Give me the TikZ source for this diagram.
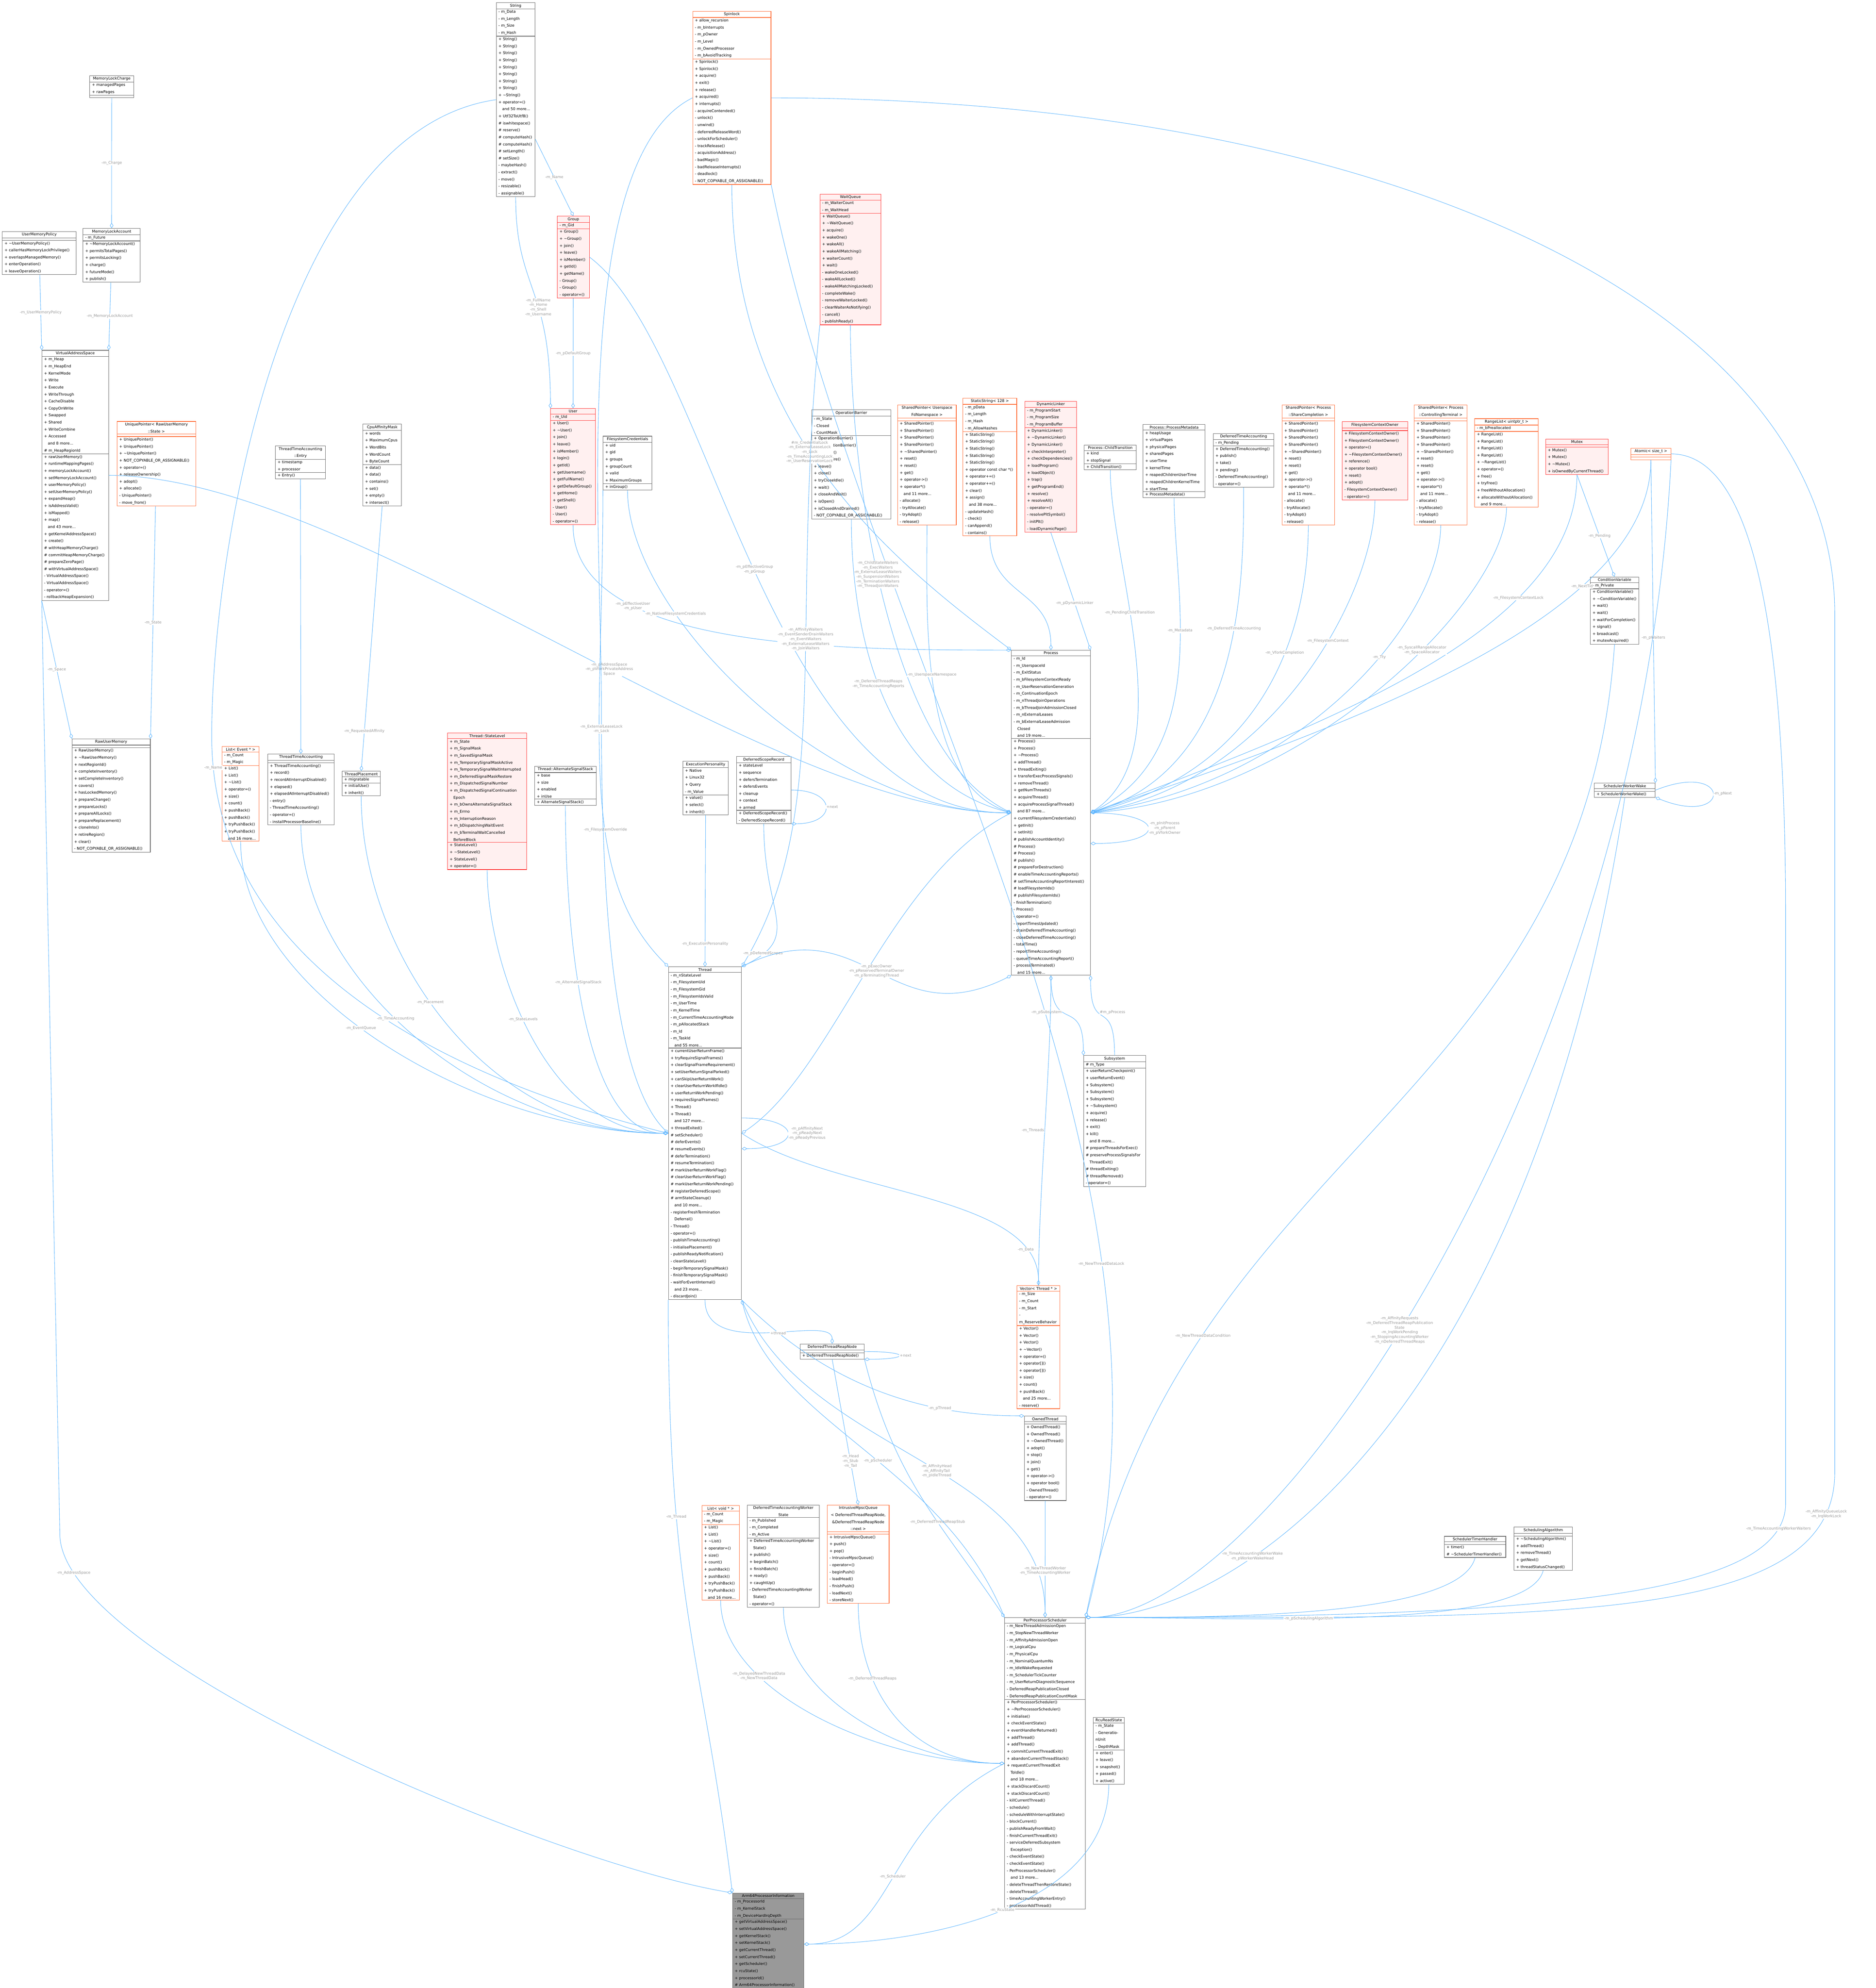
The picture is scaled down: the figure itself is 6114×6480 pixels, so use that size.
\documentclass[tikz,border=0pt]{standalone}
\usepackage{fontspec}
\setmainfont{DejaVu Sans}
\usetikzlibrary{arrows.meta,shapes.multipart}

\definecolor{edgeblue}{HTML}{63B8FF}
\definecolor{labelgray}{HTML}{9A9A9A}
\definecolor{tmplorange}{HTML}{FF6A33}
\definecolor{incred}{HTML}{FF3333}
\definecolor{incfill}{HTML}{FFF0F0}
\definecolor{boxgray}{HTML}{666666}

\newcommand{\ttl}[1]{\makebox[\hsize]{#1}}
\newcommand{\tl}{\textasciitilde}

\begin{document}
\begin{tikzpicture}[
        x=0.01cm, y=-0.01cm,
        cls/.style={draw=boxgray, fill=white, line width=0.4pt, rectangle split, rectangle split parts=3,
            anchor=north west, align=left, inner xsep=2pt, inner ysep=1pt,
            font=\fontsize{3.5}{6.5}\selectfont},
        tmpl/.style={cls, draw=tmplorange},
        inc/.style={cls, draw=incred, fill=incfill},
        cur/.style={cls, fill=black!40},
        agg/.style={draw=edgeblue, line width=0.4pt, -{Diamond[open, length=5pt, width=3.2pt]}},
        lbl/.style={text=labelgray, font=\fontsize{3.5}{4.3}\selectfont, align=center, fill=white, inner sep=0.5pt},
    ]
    \useasboundingbox (0,0) rectangle (6114,6480);

    % top row
    \node[cls, text width=1.29cm] (memorylockcharge) at (292,246) {\ttl{MemoryLockCharge}
        \nodepart{two} + managedPages\\ + rawPages
        \nodepart{three} \mbox{}};
    \node[cls, text width=1.12cm] (string) at (1617,8) {\ttl{String}
        \nodepart{two} - m\_Data\\ - m\_Length\\ - m\_Size\\ - m\_Hash
        \nodepart{three} + String()\\ + String()\\ + String()\\ + String()\\ + String()\\ + String()\\ + String()\\ + String()\\
        + \tl String()\\ + operator=()\\ \quad and 50 more...\\ + Utf32ToUtf8()\\ \# iswhitespace()\\ \# reserve()\\
        \# computeHash()\\ \# computeHash()\\ \# setLength()\\ \# setSize()\\ - maybeHash()\\ - extract()\\ - move()\\ - resizable()\\ - assignable()};
    \node[tmpl, text width=2.41cm] (spinlock) at (2257,36) {\ttl{Spinlock}
        \nodepart{two} + allow\_recursion\\ - m\_bInterrupts\\ - m\_pOwner\\ - m\_Level\\ - m\_OwnedProcessor\\ - m\_bAvoidTracking
        \nodepart{three} + Spinlock()\\ + Spinlock()\\ + acquire()\\ + exit()\\ + release()\\ + acquired()\\ + interrupts()\\
        - acquireContended()\\ - unlock()\\ - unwind()\\ - deferredReleaseWord()\\ - unlockForScheduler()\\ - trackRelease()\\
        - acquisitionAddress()\\ - badMagic()\\ - badReleaseInterrupts()\\ - deadlock()\\ - NOT\_COPYABLE\_OR\_ASSIGNABLE()};
    \node[inc, text width=1.84cm] (waitqueue) at (2672,632) {\ttl{WaitQueue}
        \nodepart{two} - m\_WaiterCount\\ - m\_WaitHead
        \nodepart{three} + WaitQueue()\\ + \tl WaitQueue()\\ + acquire()\\ + wakeOne()\\ + wakeAll()\\ + wakeAllMatching()\\ + waiterCount()\\ + wait()\\
        - wakeOneLocked()\\ - wakeAllLocked()\\ - wakeAllMatchingLocked()\\ - completeWake()\\ - removeWaiterLocked()\\ - clearWaiterAsNotifying()\\ - cancel()\\ - publishReady()};
    \node[cls, text width=2.26cm] (usermemorypolicy) at (7,754) {\ttl{UserMemoryPolicy}
        \nodepart{two} \mbox{}
        \nodepart{three} + \tl UserMemoryPolicy()\\ + callerHasMemoryLockPrivilege()\\ + overlapsManagedMemory()\\ + enterOperation()\\ + leaveOperation()};
    \node[cls, text width=1.72cm] (memorylockaccount) at (270,744) {\ttl{MemoryLockAccount}
        \nodepart{two} - m\_Future
        \nodepart{three} + \tl MemoryLockAccount()\\ + permitsTotalPages()\\ + permitsLocking()\\ + charge()\\ + futureMode()\\ + publish()};
    \node[inc, text width=0.90cm] (group) at (1816,704) {\ttl{Group}
        \nodepart{two} - m\_Gid
        \nodepart{three} + Group()\\ + \tl Group()\\ + join()\\ + leave()\\ + isMember()\\ + getId()\\ + getName()\\ - Group()\\ - Group()\\ - operator=()};
    \node[inc, text width=1.32cm] (user) at (1794,1331) {\ttl{User}
        \nodepart{two} - m\_Uid
        \nodepart{three} + User()\\ + \tl User()\\ + join()\\ + leave()\\ + isMember()\\ + login()\\ + getId()\\ + getUsername()\\ + getFullName()\\
        + getDefaultGroup()\\ + getHome()\\ + getShell()\\ - User()\\ - User()\\ - operator=()};
    \node[cls, text width=2.03cm] (virtualaddressspace) at (136,1141) {\ttl{VirtualAddressSpace}
        \nodepart{two} + m\_Heap\\ + m\_HeapEnd\\ + KernelMode\\ + Write\\ + Execute\\ + WriteThrough\\ + CacheDisable\\ + CopyOnWrite\\ + Swapped\\ + Shared\\ + WriteCombine\\ + Accessed\\ \quad and 8 more...\\ \# m\_HeapRegionId
        \nodepart{three} + rawUserMemory()\\ + runtimeMappingPages()\\ + memoryLockAccount()\\ + setMemoryLockAccount()\\ + userMemoryPolicy()\\ + setUserMemoryPolicy()\\ + expandHeap()\\ + isAddressValid()\\ + isMapped()\\ + map()\\ \quad and 43 more...\\ + getKernelAddressSpace()\\ + create()\\
        \# withHeapMemoryCharge()\\ \# commitHeapMemoryCharge()\\ \# prepareZeroPage()\\ \# withVirtualAddressSpace()\\ - VirtualAddressSpace()\\ - VirtualAddressSpace()\\ - operator=()\\ - rollbackHeapExpansion()};
    \node[tmpl, text width=2.42cm] (uniquepointer) at (381,1373) {\ttl{UniquePointer< RawUserMemory}\\ \ttl{::State >}
        \nodepart{two} \mbox{}
        \nodepart{three} + UniquePointer()\\ + UniquePointer()\\ + \tl UniquePointer()\\ + NOT\_COPYABLE\_OR\_ASSIGNABLE()\\ + operator=()\\ + releaseOwnership()\\ + adopt()\\ + allocate()\\ - UniquePointer()\\ - move\_from()};
    \node[cls, text width=1.49cm] (ttaentry) at (897,1453) {\ttl{ThreadTimeAccounting}\\ \ttl{::Entry}
        \nodepart{two} + timestamp\\ + processor
        \nodepart{three} + Entry()};
    \node[cls, text width=1.12cm] (cpuaffinitymask) at (1182,1382) {\ttl{CpuAffinityMask}
        \nodepart{two} + words\\ + MaximumCpus\\ + WordBits\\ + WordCount\\ + ByteCount
        \nodepart{three} + data()\\ + data()\\ + contains()\\ + set()\\ + empty()\\ + intersect()};
    \node[cls, text width=1.45cm] (fscredentials) at (1965,1421) {\ttl{FilesystemCredentials}
        \nodepart{two} + uid\\ + gid\\ + groups\\ + groupCount\\ + valid\\ + MaximumGroups
        \nodepart{three} + inGroup()};
    \node[cls, text width=2.44cm] (operationbarrier) at (2645,1335) {\ttl{OperationBarrier}
        \nodepart{two} - m\_State\\ - Closed\\ - CountMask
        \nodepart{three} + OperationBarrier()\\ + \tl OperationBarrier()\\ + tryEnter()\\ + tryAcquire()\\ + leave()\\ + close()\\ + tryCloseIdle()\\ + wait()\\ + closeAndWait()\\ + isOpen()\\ + isClosedAndDrained()\\ - NOT\_COPYABLE\_OR\_ASSIGNABLE()};
    \node[tmpl, text width=1.77cm] (spnamespace) at (2925,1319) {\ttl{SharedPointer< Userspace}\\ \ttl{FdNamespace >}
        \nodepart{two} \mbox{}
        \nodepart{three} + SharedPointer()\\ + SharedPointer()\\ + SharedPointer()\\ + SharedPointer()\\ + \tl SharedPointer()\\ + reset()\\ + reset()\\ + get()\\ + operator->()\\ + operator*()\\ \quad and 11 more...\\ - allocate()\\ - tryAllocate()\\ - tryAdopt()\\ - release()};
    \node[tmpl, text width=1.61cm] (staticstring) at (3138,1297) {\ttl{StaticString< 128 >}
        \nodepart{two} - m\_pData\\ - m\_Length\\ - m\_Hash\\ - m\_AllowHashes
        \nodepart{three} + StaticString()\\ + StaticString()\\ + StaticString()\\ + StaticString()\\ + StaticString()\\ + operator const char *()\\ + operator+=()\\ + operator+=()\\ + clear()\\ + assign()\\ \quad and 38 more...\\ - updateHash()\\ - check()\\ - canAppend()\\ - contains()};
    \node[inc, text width=1.54cm] (dynamiclinker) at (3340,1307) {\ttl{DynamicLinker}
        \nodepart{two} - m\_ProgramStart\\ - m\_ProgramSize\\ - m\_ProgramBuffer
        \nodepart{three} + DynamicLinker()\\ + \tl DynamicLinker()\\ + DynamicLinker()\\ + checkInterpreter()\\ + checkDependencies()\\ + loadProgram()\\ + loadObject()\\ + trap()\\ + getProgramEnd()\\ + resolve()\\ + resolveAll()\\ - operator=()\\ - resolvePltSymbol()\\ - initPlt()\\ - loadDynamicPage()};
    \node[cls, text width=1.56cm] (childtransition) at (3533,1450) {\ttl{Process::ChildTransition}
        \nodepart{two} + kind\\ + stopSignal
        \nodepart{three} + ChildTransition()};
    \node[cls, text width=1.88cm] (processmetadata) at (3725,1383) {\ttl{Process::ProcessMetadata}
        \nodepart{two} + heapUsage\\ + virtualPages\\ + physicalPages\\ + sharedPages\\ + userTime\\ + kernelTime\\ + reapedChildrenUserTime\\ + reapedChildrenKernelTime\\ + startTime
        \nodepart{three} + ProcessMetadata()};
    \node[cls, text width=1.83cm] (deferredtimeaccounting) at (3954,1412) {\ttl{DeferredTimeAccounting}
        \nodepart{two} - m\_Pending
        \nodepart{three} + DeferredTimeAccounting()\\ + publish()\\ + take()\\ + pending()\\ - DeferredTimeAccounting()\\ - operator=()};
    \node[tmpl, text width=1.57cm] (spcompletion) at (4178,1319) {\ttl{SharedPointer< Process}\\ \ttl{::ShareCompletion >}
        \nodepart{two} \mbox{}
        \nodepart{three} + SharedPointer()\\ + SharedPointer()\\ + SharedPointer()\\ + SharedPointer()\\ + \tl SharedPointer()\\ + reset()\\ + reset()\\ + get()\\ + operator->()\\ + operator*()\\ \quad and 11 more...\\ - allocate()\\ - tryAllocate()\\ - tryAdopt()\\ - release()};
    \node[inc, text width=1.99cm] (fscontextowner) at (4374,1374) {\ttl{FilesystemContextOwner}
        \nodepart{two} \mbox{}
        \nodepart{three} + FilesystemContextOwner()\\ + FilesystemContextOwner()\\ + operator=()\\ + \tl FilesystemContextOwner()\\ + reference()\\ + operator bool()\\ + reset()\\ + adopt()\\ - FilesystemContextOwner()\\ - operator=()};
    \node[tmpl, text width=1.58cm] (spterminal) at (4609,1319) {\ttl{SharedPointer< Process}\\ \ttl{::ControllingTerminal >}
        \nodepart{two} \mbox{}
        \nodepart{three} + SharedPointer()\\ + SharedPointer()\\ + SharedPointer()\\ + SharedPointer()\\ + \tl SharedPointer()\\ + reset()\\ + reset()\\ + get()\\ + operator->()\\ + operator*()\\ \quad and 11 more...\\ - allocate()\\ - tryAllocate()\\ - tryAdopt()\\ - release()};
    \node[tmpl, text width=1.93cm] (rangelist) at (4806,1364) {\ttl{RangeList< uintptr\_t >}
        \nodepart{two} - m\_bPreallocated
        \nodepart{three} + RangeList()\\ + RangeList()\\ + RangeList()\\ + RangeList()\\ + \tl RangeList()\\ + operator=()\\ + free()\\ + tryFree()\\ + freeWithoutAllocation()\\ + allocateWithoutAllocation()\\ \quad and 9 more...};
    \node[inc, text width=1.90cm] (mutex) at (5037,1431) {\ttl{Mutex}
        \nodepart{two} \mbox{}
        \nodepart{three} + Mutex()\\ + Mutex()\\ + \tl Mutex()\\ + isOwnedByCurrentThread()};
    \node[tmpl, text width=1.16cm] (atomicsize) at (5315,1460) {\ttl{Atomic< size\_t >}
        \nodepart{two} \mbox{}
        \nodepart{three} \mbox{}};
    \node[cls, text width=1.43cm] (conditionvariable) at (5183,1880) {\ttl{ConditionVariable}
        \nodepart{two} - m\_Private
        \nodepart{three} + ConditionVariable()\\ + \tl ConditionVariable()\\ + wait()\\ + wait()\\ + waitForCompletion()\\ + signal()\\ + broadcast()\\ + mutexAcquired()};
    \node[cls, text width=1.84cm] (workerwake) at (5196,2552) {\ttl{SchedulerWorkerWake}
        \nodepart{two} \mbox{}
        \nodepart{three} + SchedulerWorkerWake()};

    % middle row
    \node[cls, text width=2.41cm] (rawusermemory) at (234,2408) {\ttl{RawUserMemory}
        \nodepart{two} \mbox{}
        \nodepart{three} + RawUserMemory()\\ + \tl RawUserMemory()\\ + nextRegionId()\\ + completeInventory()\\ + setCompleteInventory()\\ + covers()\\ + hasLockedMemory()\\ + prepareChange()\\ + prepareLocks()\\ + prepareAllLocks()\\ + prepareReplacement()\\ + cloneInto()\\ + retireRegion()\\ + clear()\\ - NOT\_COPYABLE\_OR\_ASSIGNABLE()};
    \node[tmpl, text width=1.07cm] (eventlist) at (723,2433) {\ttl{List< Event * >}
        \nodepart{two} - m\_Count\\ - m\_Magic
        \nodepart{three} + List()\\ + List()\\ + \tl List()\\ + operator=()\\ + size()\\ + count()\\ + pushBack()\\ + pushBack()\\ + tryPushBack()\\ + tryPushBack()\\ \quad and 16 more...};
    \node[cls, text width=2.02cm] (timeaccounting) at (872,2457) {\ttl{ThreadTimeAccounting}
        \nodepart{two} \mbox{}
        \nodepart{three} + ThreadTimeAccounting()\\ + record()\\ + recordAtInterruptDisabled()\\ + elapsed()\\ + elapsedAtInterruptDisabled()\\ - entry()\\ - ThreadTimeAccounting()\\ - operator=()\\ - installProcessorBaseline()};
    \node[cls, text width=1.11cm] (placement) at (1114,2513) {\ttl{ThreadPlacement}
        \nodepart{two} + migratable
        \nodepart{three} + initialUse()\\ + inherit()};
    \node[inc, text width=2.44cm] (statelevel) at (1458,2389) {\ttl{Thread::StateLevel}
        \nodepart{two} + m\_State\\ + m\_SignalMask\\ + m\_SavedSignalMask\\ + m\_TemporarySignalMaskActive\\ + m\_TemporarySignalWaitInterrupted\\ + m\_DeferredSignalMaskRestore\\ + m\_DispatchedSignalNumber\\ + m\_DispatchedSignalContinuation\\ \quad Epoch\\ + m\_bOwnsAlternateSignalStack\\ + m\_Errno\\ + m\_InterruptionReason\\ + m\_bDispatchingWaitEvent\\ + m\_bTerminalWaitCancelled\\ \quad BeforeBlock
        \nodepart{three} + StateLevel()\\ + \tl StateLevel()\\ + StateLevel()\\ + operator=()};
    \node[cls, text width=1.86cm] (altstack) at (1742,2497) {\ttl{Thread::AlternateSignalStack}
        \nodepart{two} + base\\ + size\\ + enabled\\ + inUse
        \nodepart{three} + AlternateSignalStack()};
    \node[cls, text width=1.34cm] (personality) at (2225,2481) {\ttl{ExecutionPersonality}
        \nodepart{two} + Native\\ + Linux32\\ + Query\\ - m\_Value
        \nodepart{three} + value()\\ + select()\\ + inherit()};
    \node[cls, text width=1.63cm] (scoperecord) at (2400,2465) {\ttl{DeferredScopeRecord}
        \nodepart{two} + stateLevel\\ + sequence\\ + defersTermination\\ + defersEvents\\ + cleanup\\ + context\\ + armed
        \nodepart{three} + DeferredScopeRecord()\\ - DeferredScopeRecord()};

    \node[cls, text width=2.43cm] (process) at (3296,2119) {\ttl{Process}
        \nodepart{two} - m\_Id\\ - m\_UserspaceId\\ - m\_ExitStatus\\ - m\_bFilesystemContextReady\\ - m\_UserReservationGeneration\\ - m\_ContinuationEpoch\\ - m\_nThreadJoinOperations\\ - m\_bThreadJoinAdmissionClosed\\ - m\_nExternalLeases\\ - m\_bExternalLeaseAdmission\\ \quad Closed\\ \quad and 19 more...
        \nodepart{three} + Process()\\ + Process()\\ + \tl Process()\\ + addThread()\\ + threadExiting()\\ + transferExecProcessSignals()\\ + removeThread()\\ + getNumThreads()\\ + acquireThread()\\ + acquireProcessSignalThread()\\ \quad and 87 more...\\ + currentFilesystemCredentials()\\ + getInit()\\ + setInit()\\
        \# publishAccountIdentity()\\ \# Process()\\ \# Process()\\ \# publish()\\ \# prepareForDestruction()\\ \# enableTimeAccountingReports()\\ \# setTimeAccountingReportInterest()\\ \# loadFilesystemIds()\\ \# publishFilesystemIds()\\
        - finishTermination()\\ - Process()\\ - operator=()\\ - reportTimesUpdated()\\ - drainDeferredTimeAccounting()\\ - closeDeferredTimeAccounting()\\ - totalTime()\\ - reportTimeAccounting()\\ - queueTimeAccountingReport()\\ - processTerminated()\\ \quad and 15 more...};
    \node[cls, text width=2.24cm] (thread) at (2178,3151) {\ttl{Thread}
        \nodepart{two} - m\_nStateLevel\\ - m\_FilesystemUid\\ - m\_FilesystemGid\\ - m\_FilesystemIdsValid\\ - m\_UserTime\\ - m\_KernelTime\\ - m\_CurrentTimeAccountingMode\\ - m\_pAllocatedStack\\ - m\_Id\\ - m\_TaskId\\ \quad and 55 more...
        \nodepart{three} + currentUserReturnFrame()\\ + tryRequireSignalFrames()\\ + clearSignalFrameRequirement()\\ + setUserReturnSignalParked()\\ + canSkipUserReturnWork()\\ + clearUserReturnWorkIfIdle()\\ + userReturnWorkPending()\\ + requiresSignalFrames()\\ + Thread()\\ + Thread()\\ \quad and 127 more...\\ + threadExited()\\
        \# setScheduler()\\ \# deferEvents()\\ \# resumeEvents()\\ \# deferTermination()\\ \# resumeTermination()\\ \# markUserReturnWorkFlag()\\ \# clearUserReturnWorkFlag()\\ \# markUserReturnWorkPending()\\ \# registerDeferredScope()\\ \# armStateCleanup()\\ \quad and 10 more...\\
        - registerFreshTermination\\ \quad Deferral()\\ - Thread()\\ - operator=()\\ - publishTimeAccounting()\\ - initialisePlacement()\\ - publishReadyNotification()\\ - cleanStateLevel()\\ - beginTemporarySignalMask()\\ - finishTemporarySignalMask()\\ - waitForEventInternal()\\ \quad and 23 more...\\ - discardJoin()};
    \node[cls, text width=1.88cm] (subsystem) at (3531,3440) {\ttl{Subsystem}
        \nodepart{two} \# m\_Type
        \nodepart{three} + userReturnCheckpoint()\\ + userReturnEvent()\\ + Subsystem()\\ + Subsystem()\\ + Subsystem()\\ + \tl Subsystem()\\ + acquire()\\ + release()\\ + exit()\\ + kill()\\ \quad and 8 more...\\ \# prepareThreadsForExec()\\ \# preserveProcessSignalsFor\\ \quad ThreadExit()\\ \# threadExiting()\\ \# threadRemoved()\\ - operator=()};

    % lower row
    \node[tmpl, text width=1.26cm] (threadvector) at (3314,4190) {\ttl{Vector< Thread * >}
        \nodepart{two} - m\_Size\\ - m\_Count\\ - m\_Start\\ - m\_ReserveBehavior
        \nodepart{three} + Vector()\\ + Vector()\\ + Vector()\\ + \tl Vector()\\ + operator=()\\ + operator[]()\\ + operator[]()\\ + size()\\ + count()\\ + pushBack()\\ \quad and 25 more...\\ - reserve()};
    \node[cls, text width=1.22cm] (ownedthread) at (3338,4615) {\ttl{OwnedThread}
        \nodepart{two} \mbox{}
        \nodepart{three} + OwnedThread()\\ + OwnedThread()\\ + \tl OwnedThread()\\ + adopt()\\ + stop()\\ + join()\\ + get()\\ + operator->()\\ + operator bool()\\ - OwnedThread()\\ - operator=()};
    \node[cls, text width=1.95cm] (reapnode) at (2607,4380) {\ttl{DeferredThreadReapNode}
        \nodepart{two} \mbox{}
        \nodepart{three} + DeferredThreadReapNode()};
    \node[tmpl, text width=1.08cm] (voidlist) at (2287,4907) {\ttl{List< void * >}
        \nodepart{two} - m\_Count\\ - m\_Magic
        \nodepart{three} + List()\\ + List()\\ + \tl List()\\ + operator=()\\ + size()\\ + count()\\ + pushBack()\\ + pushBack()\\ + tryPushBack()\\ + tryPushBack()\\ \quad and 16 more...};
    \node[cls, text width=2.21cm] (workerstate) at (2435,4905) {\ttl{DeferredTimeAccountingWorker}\\ \ttl{State}
        \nodepart{two} - m\_Published\\ - m\_Completed\\ - m\_Active
        \nodepart{three} + DeferredTimeAccountingWorker\\ \quad State()\\ + publish()\\ + beginBatch()\\ + finishBatch()\\ + ready()\\ + caughtUp()\\ - DeferredTimeAccountingWorker\\ \quad State()\\ - operator=()};
    \node[tmpl, text width=1.87cm] (mpscqueue) at (2696,4905) {\ttl{IntrusiveMpscQueue}\\ \ttl{< DeferredThreadReapNode,}\\ \ttl{\&DeferredThreadReapNode}\\ \ttl{::next >}
        \nodepart{two} \mbox{}
        \nodepart{three} + IntrusiveMpscQueue()\\ + push()\\ + pop()\\ - IntrusiveMpscQueue()\\ - operator=()\\ - beginPush()\\ - loadHead()\\ - finishPush()\\ - loadNext()\\ - storeNext()};
    \node[cls, text width=1.86cm] (timerhandler) at (4707,5007) {\ttl{SchedulerTimerHandler}
        \nodepart{two} \mbox{}
        \nodepart{three} + timer()\\ \# \tl SchedulerTimerHandler()};
    \node[cls, text width=1.76cm] (algorithm) at (4934,4977) {\ttl{SchedulingAlgorithm}
        \nodepart{two} \mbox{}
        \nodepart{three} + \tl SchedulingAlgorithm()\\ + addThread()\\ + removeThread()\\ + getNext()\\ + threadStatusChanged()};
    \node[cls, text width=2.49cm] (scheduler) at (3274,5272) {\ttl{PerProcessorScheduler}
        \nodepart{two} - m\_NewThreadAdmissionOpen\\ - m\_StopNewThreadWorker\\ - m\_AffinityAdmissionOpen\\ - m\_LogicalCpu\\ - m\_PhysicalCpu\\ - m\_NominalQuantumNs\\ - m\_IdleWakeRequested\\ - m\_SchedulerTickCounter\\ - m\_UserReturnDiagnosticSequence\\ - DeferredReapPublicationClosed\\ - DeferredReapPublicationCountMask
        \nodepart{three} + PerProcessorScheduler()\\ + \tl PerProcessorScheduler()\\ + initialise()\\ + checkEventState()\\ + eventHandlerReturned()\\ + addThread()\\ + addThread()\\ + commitCurrentThreadExit()\\ + abandonCurrentThreadStack()\\ + requestCurrentThreadExit\\ \quad ToIdle()\\ \quad and 18 more...\\ + stackDiscardCount()\\ + stackDiscardCount()\\
        - killCurrentThread()\\ - schedule()\\ - scheduleWithInterruptState()\\ - blockCurrent()\\ - publishReadyFromWait()\\ - finishCurrentThreadExit()\\ - serviceDeferredSubsystem\\ \quad Exception()\\ - checkEventState()\\ - checkEventState()\\ - PerProcessorScheduler()\\ \quad and 13 more...\\ - deleteThreadThenRestoreState()\\ - deleteThread()\\ - timeAccountingWorkerEntry()\\ - processorAddThread()};
    \node[cls, text width=0.86cm] (rcustate) at (3563,5597) {\ttl{RcuReadState}
        \nodepart{two} - m\_State\\ - GenerationUnit\\ - DepthMask
        \nodepart{three} + enter()\\ + leave()\\ + snapshot()\\ + passed()\\ + active()};
    \node[cur, text width=2.18cm] (arm64info) at (2387,6170) {\ttl{Arm64ProcessorInformation}
        \nodepart{two} - m\_ProcessorId\\ - m\_KernelStack\\ - m\_DeviceHardIrqDepth
        \nodepart{three} + getVirtualAddressSpace()\\ + setVirtualAddressSpace()\\ + getKernelStack()\\ + setKernelStack()\\ + getCurrentThread()\\ + setCurrentThread()\\ + getScheduler()\\ + rcuState()\\ + processorId()\\ \# Arm64ProcessorInformation()\\ \# \tl Arm64ProcessorInformation()};

    % memory and accounts
    \draw[agg] (memorylockcharge) -- node[lbl] {-m\_Charge} (memorylockaccount);
    \draw[agg] (usermemorypolicy) -- node[lbl] {-m\_UserMemoryPolicy} (virtualaddressspace.north west);
    \draw[agg] (memorylockaccount) -- node[lbl] {-m\_MemoryLockAccount} (virtualaddressspace.north east);
    \draw[agg] (virtualaddressspace.south west) -- node[lbl] {-m\_Space} (rawusermemory.north west);
    \draw[agg] (uniquepointer) -- node[lbl] {-m\_State} (rawusermemory.north east);
    \draw[agg] (virtualaddressspace.south west) -- (195,5000) .. controls +(0,400) and +(-600,-100) .. node[lbl, pos=0.1] {-m\_AddressSpace} (arm64info.north west);
    \draw[agg] (virtualaddressspace.east) .. controls +(800,0) and +(-800,0) .. node[lbl, pos=0.55] {-m\_pAddressSpace\\-m\_pVforkPrivateAddress\\Space} (process.west);

    % users and strings
    \draw[agg] (string) -- node[lbl] {-m\_Name} (group.north);
    \draw[agg] (string.south) .. controls +(0,300) and +(0,-400) .. node[lbl, pos=0.6] {-m\_FullName\\-m\_Home\\-m\_Shell\\-m\_Username} (user.north west);
    \draw[agg] (group) -- node[lbl] {-m\_pDefaultGroup} (user.north);
    \draw[agg] (string.west) .. controls +(-700,100) and +(0,-600) .. (690,2400) .. controls +(0,700) and +(-800,-200) .. node[lbl, pos=0.05] {-m\_Name} (thread.west);
    \draw[agg] (user.south) .. controls +(0,400) and +(-600,0) .. node[lbl, pos=0.3] {-m\_pEffectiveUser\\-m\_pUser} (process.north west);
    \draw[agg] (group.east) .. controls +(400,300) and +(-800,0) .. node[lbl, pos=0.5] {-m\_pEffectiveGroup\\-m\_pGroup} (process.west);
    \draw[agg] (fscredentials.south) .. controls +(0,400) and +(-600,0) .. node[lbl, pos=0.3] {-m\_NativeFilesystemCredentials} (process.west);
    \draw[agg] (fscredentials.south west) .. controls +(0,800) and +(-300,-300) .. node[lbl, pos=0.6] {-m\_FilesystemOverride} (thread.north west);

    % locks and waiting
    \draw[agg] (spinlock.west) .. controls +(-400,200) and +(0,-600) .. (1960,2300) .. controls +(0,500) and +(-200,-200) .. node[lbl, pos=0.05] {-m\_ExternalLeaseLock\\-m\_Lock} (thread.west);
    \draw[agg] (spinlock.south) .. controls +(0,800) and +(-400,-300) .. node[lbl, pos=0.45] {\#m\_CredentialLock\\-m\_ExternalLeaseLock\\-m\_Lock\\-m\_TimeAccountingLock\\-m\_UserReservationLock} (process.north west);
    \draw[agg] (spinlock.east) .. controls +(2000,0) and +(0,-1000) .. (5980,2000) -- (5980,4800) .. controls +(0,500) and +(1500,0) .. node[lbl, pos=0.1] {-m\_AffinityQueueLock\\-m\_IrqWorkLock} (scheduler.north east);
    \draw[agg] (spinlock.south east) .. controls +(300,1500) and +(400,-1500) .. node[lbl, pos=0.75] {-m\_NewThreadDataLock} (scheduler.north east);
    \draw[agg] (waitqueue.south) .. controls +(0,500) and +(-400,-200) .. node[lbl, pos=0.45] {-m\_ChildStateWaiters\\-m\_ExecWaiters\\-m\_ExternalLeaseWaiters\\-m\_SuspensionWaiters\\-m\_TerminationWaiters\\-m\_ThreadJoinWaiters} (process.west);
    \draw[agg] (waitqueue.south west) .. controls +(-100,1000) and +(300,-500) .. node[lbl, pos=0.4] {-m\_AffinityWaiters\\-m\_EventSenderDrainWaiters\\-m\_EventWaiters\\-m\_ExternalLeaseWaiters\\-m\_JoinWaiters} (thread.north east);
    \draw[agg] (mutex.south) .. controls +(0,500) and +(800,-300) .. node[lbl, pos=0.3] {-m\_FilesystemContextLock} (process.east);
    \draw[agg] (atomicsize.south) .. controls +(0,500) and +(900,-300) .. node[lbl, pos=0.3] {-m\_NextTid} (process.east);
    \draw[agg] (conditionvariable.south) .. controls +(-100,1500) and +(300,-1500) .. node[lbl, pos=0.75] {-m\_NewThreadDataCondition} (scheduler.north east);

    % process members
    \draw[agg] (operationbarrier.south) .. controls +(0,400) and +(-400,-100) .. node[lbl, pos=0.45] {-m\_DeferredThreadReaps\\-m\_TimeAccountingReports} (process.west);
    \draw[agg] (spnamespace.south) .. controls +(0,300) and +(-300,-100) .. node[lbl, pos=0.45] {-m\_UserspaceNamespace} (process.west);
    \draw[agg] (staticstring.south) .. controls +(0,200) and +(0,-200) .. (process.north);
    \draw[agg] (dynamiclinker.south) -- node[lbl, pos=0.6] {-m\_pDynamicLinker} (process.north east);
    \draw[agg] (childtransition.south) .. controls +(0,300) and +(300,-200) .. node[lbl, pos=0.4] {-m\_PendingChildTransition} (process.east);
    \draw[agg] (processmetadata.south) .. controls +(0,300) and +(400,-200) .. node[lbl, pos=0.4] {-m\_Metadata} (process.east);
    \draw[agg] (deferredtimeaccounting.south) .. controls +(0,300) and +(500,-150) .. node[lbl, pos=0.4] {-m\_DeferredTimeAccounting} (process.east);
    \draw[agg] (spcompletion.south) .. controls +(0,300) and +(600,-150) .. node[lbl, pos=0.4] {-m\_VforkCompletion} (process.east);
    \draw[agg] (fscontextowner.south) .. controls +(0,300) and +(600,-100) .. node[lbl, pos=0.4] {-m\_FilesystemContext} (process.east);
    \draw[agg] (spterminal.south) .. controls +(0,300) and +(700,-100) .. node[lbl, pos=0.4] {-m\_Tty} (process.east);
    \draw[agg] (rangelist.south) .. controls +(0,300) and +(700,-50) .. node[lbl, pos=0.4] {-m\_SyscallRangeAllocator\\-m\_SpaceAllocator} (process.east);
    \draw[agg] (process.east) .. controls +(250,0) and +(250,0) .. node[lbl, right] {-m\_pInitProcess\\-m\_pParent\\-m\_pVforkOwner} ([yshift=-1cm]process.east);
    \draw[agg] (process.south) .. controls +(0,200) and +(0,-200) .. node[lbl, pos=0.4, left] {-m\_pSubsystem} (subsystem.north west);
    \draw[agg] (subsystem.north) .. controls +(0,-200) and +(0,200) .. node[lbl, pos=0.6, right] {\#m\_pProcess} (process.south east);

    % thread members
    \draw[agg] (eventlist.south) .. controls +(0,500) and +(-600,0) .. node[lbl, pos=0.45] {-m\_EventQueue} (thread.west);
    \draw[agg] (ttaentry) -- (timeaccounting);
    \draw[agg] (timeaccounting.south) .. controls +(0,500) and +(-600,0) .. node[lbl, pos=0.45] {-m\_TimeAccounting} (thread.west);
    \draw[agg] (cpuaffinitymask.south) -- node[lbl, pos=0.85] {-m\_RequestedAffinity} (placement.north);
    \draw[agg] (placement.south) .. controls +(0,500) and +(-600,0) .. node[lbl, pos=0.45] {-m\_Placement} (thread.west);
    \draw[agg] (statelevel.south) .. controls +(0,300) and +(-400,0) .. node[lbl, pos=0.45] {-m\_StateLevels} (thread.west);
    \draw[agg] (altstack.south) .. controls +(0,300) and +(-300,0) .. node[lbl, pos=0.45] {-m\_AlternateSignalStack} (thread.west);
    \draw[agg] (personality.south) -- node[lbl, pos=0.85] {-m\_ExecutionPersonality} (thread.north);
    \draw[agg] (scoperecord.south) .. controls +(0,300) and +(200,-100) .. node[lbl, pos=0.85] {-m\_pDeferredScopes} (thread.north east);
    \draw[agg] (scoperecord.east) .. controls +(150,0) and +(150,0) .. node[lbl, right] {+next} (scoperecord.south east);
    \draw[agg] (process.west) .. controls +(-400,200) and +(300,-200) .. node[lbl, pos=0.5] {-m\_pParent} (thread.east);
    \draw[agg] (thread.north east) .. controls +(400,-200) and +(-400,200) .. node[lbl, pos=0.5] {-m\_pExecOwner\\-m\_pReservedTerminalOwner\\-m\_pTerminatingThread} (process.south west);
    \draw[agg] ([yshift=0.5cm]thread.east) .. controls +(200,0) and +(200,0) .. node[lbl, right] {-m\_pAffinityNext\\-m\_pReadyNext\\-m\_pReadyPrevious} ([yshift=-0.5cm]thread.east);
    \draw[agg] (threadvector.north) .. controls +(0,-300) and +(0,300) .. node[lbl, pos=0.5, left] {-m\_Threads} (process.south);
    \draw[agg] (thread.east) .. controls +(300,200) and +(0,-300) .. node[lbl, pos=0.85] {-m\_Data} (threadvector.north);
    \draw[agg] (thread.south east) .. controls +(300,300) and +(-300,0) .. node[lbl, pos=0.7] {-m\_pThread} (ownedthread.north west);
    \draw[agg] (thread.south) .. controls +(0,200) and +(0,-100) .. node[lbl, pos=0.55] {+thread} (reapnode.north);

    % scheduler members
    \draw[agg] (reapnode.east) .. controls +(150,0) and +(150,0) .. node[lbl, right] {+next} (reapnode.south east);
    \draw[agg] (reapnode.south) -- node[lbl, pos=0.7] {-m\_Head\\-m\_Stub\\-m\_Tail} (mpscqueue.north);
    \draw[agg] (reapnode.south east) .. controls +(100,400) and +(-200,-300) .. node[lbl, pos=0.6] {-m\_DeferredThreadReapStub} (scheduler.north west);
    \draw[agg] (thread.south east) .. controls +(200,500) and +(0,-500) .. node[lbl, pos=0.55] {-m\_AffinityHead\\-m\_AffinityTail\\-m\_pIdleThread} (scheduler.north);
    \draw[agg] (scheduler.north west) .. controls +(-200,-500) and +(100,400) .. node[lbl, pos=0.45] {-m\_pScheduler} (thread.south east);
    \draw[agg] (ownedthread.south) -- node[lbl, pos=0.6] {-m\_NewThreadWorker\\-m\_TimeAccountingWorker} (scheduler.north);
    \draw[agg] (voidlist.south) .. controls +(0,300) and +(-400,0) .. node[lbl, pos=0.3] {-m\_DelayedNewThreadData\\-m\_NewThreadData} (scheduler.west);
    \draw[agg] (workerstate.south) .. controls +(0,300) and +(-300,0) .. (scheduler.west);
    \draw[agg] (mpscqueue.south) .. controls +(0,300) and +(-300,0) .. node[lbl, pos=0.3] {-m\_DeferredThreadReaps} (scheduler.west);
    \draw[agg] (thread.south west) .. controls +(0,1000) and +(-100,-800) .. node[lbl, pos=0.3] {-m\_Thread} (arm64info.north west);
    \draw[agg] (scheduler.west) .. controls +(-400,200) and +(300,0) .. node[lbl, pos=0.5] {-m\_Scheduler} (arm64info.east);
    \draw[agg] (rcustate.south) .. controls +(0,400) and +(400,0) .. node[lbl, pos=0.5] {-m\_RcuState} (arm64info.east);
    \draw[agg] (timerhandler.south) .. controls +(-50,200) and +(400,0) .. (scheduler.north east);
    \draw[agg] (algorithm.south) .. controls +(-50,200) and +(500,0) .. node[lbl, pos=0.6] {-m\_pSchedulingAlgorithm} (scheduler.north east);
    \draw[agg] (workerwake.south) .. controls +(-300,2000) and +(500,0) .. node[lbl, pos=0.7] {-m\_TimeAccountingWorkerWake\\-m\_pWorkerWakeHead} (scheduler.north east);
    \draw[agg] (workerwake.east) .. controls +(250,-100) and +(250,100) .. node[lbl, right] {-m\_pNext} (workerwake.south east);
    \draw[agg] (atomicsize.south) -- node[lbl, pos=0.55] {-m\_pWaiters} (workerwake.north east);
    \draw[agg] (mutex.south) -- node[lbl, pos=0.6] {-m\_Pending} (conditionvariable.north);
    \draw[agg] (atomicsize.south east) .. controls +(-100,2000) and +(600,0) .. node[lbl, pos=0.55] {-m\_AffinityRequests\\-m\_DeferredThreadReapPublication\\State\\-m\_IrqWorkPending\\-m\_StoppingAccountingWorker\\-m\_nDeferredThreadReaps} (scheduler.north east);
    \draw[agg] (atomicsize.east) .. controls +(300,0) and +(0,-800) .. (5820,3000) -- (5820,4900) .. controls +(0,300) and +(1500,0) .. node[lbl, pos=0.1] {-m\_TimeAccountingWorkerWaiters} (scheduler.north east);
\end{tikzpicture}
\end{document}
